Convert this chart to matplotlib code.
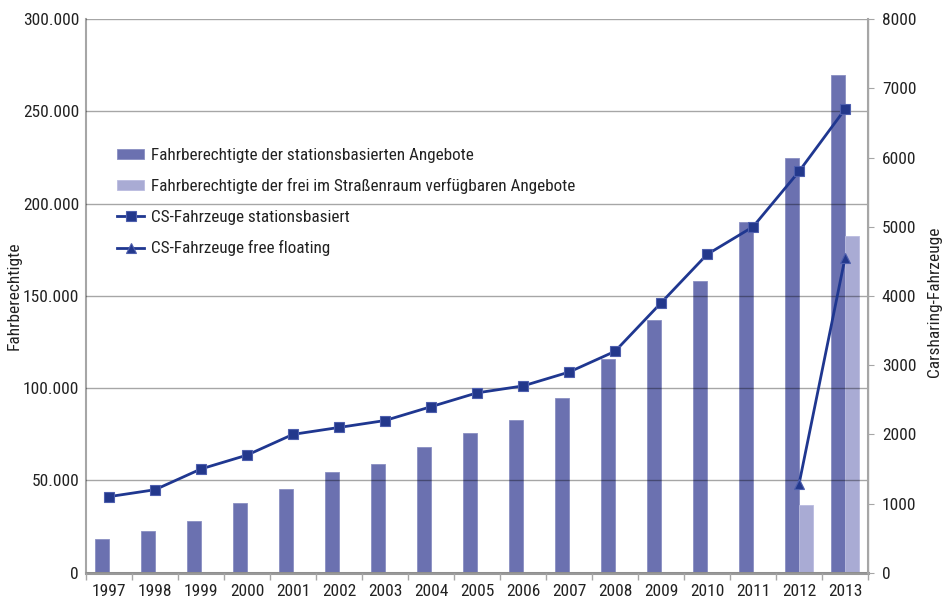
import matplotlib
matplotlib.use("Agg")
import matplotlib.pyplot as plt
from matplotlib.ticker import FuncFormatter, MultipleLocator, FixedLocator
import numpy as np

plt.rcParams['font.family'] = ['Roboto Condensed', 'Liberation Sans Narrow', 'DejaVu Sans']
plt.rcParams['font.stretch'] = 'condensed'

years = ["1997", "1998", "1999", "2000", "2001", "2002", "2003", "2004", "2005",
         "2006", "2007", "2008", "2009", "2010", "2011", "2012", "2013"]
fahrber_station = [18500, 22400, 28200, 37600, 45600, 54400, 59000, 68000, 75700,
                   82900, 94900, 115800, 136800, 158000, 190000, 225000, 270000]
fahrber_free = [None] * 15 + [36700, 182700]
fz_station = [1100, 1200, 1500, 1700, 2000, 2100, 2200, 2400, 2600,
              2700, 2900, 3200, 3900, 4600, 5000, 5800, 6700]
fz_free = [None] * 15 + [1280, 4550]

lbl_bar1 = "Fahrberechtigte der stationsbasierten Angebote"
lbl_bar2 = "Fahrberechtigte der frei im Straßenraum verfügbaren Angebote"
lbl_ln1 = "CS-Fahrzeuge stationsbasiert"
lbl_ln2 = "CS-Fahrzeuge free floating"

c_bar1 = "#6b71b0"
c_bar2 = "#a9abd4"
c_line = "#1f3790"
grey = "#a6a6a6"
txt = "#222222"

fig = plt.figure(figsize=(9.5, 6.01), dpi=100)
ax = fig.add_axes([0.0905, 0.047, 0.8232, 0.921])
ax2 = ax.twinx()

x = np.arange(len(years))
w = 0.30
ax.bar(x - w / 2, fahrber_station, width=w, color=c_bar1, edgecolor="#8a8fc2",
       linewidth=0.6, label=lbl_bar1, zorder=2)
fx = [i for i, v in enumerate(fahrber_free) if v is not None]
fv = [v for v in fahrber_free if v is not None]
ax.bar(np.array(fx) + w / 2, fv, width=w, color=c_bar2, edgecolor="#babce0",
       linewidth=0.6, label=lbl_bar2, zorder=2)

ax.set_ylim(0, 300000)
ax.set_xlim(-0.5, len(years) - 0.5)
ax.yaxis.set_major_locator(MultipleLocator(50000))
ax.yaxis.set_major_formatter(FuncFormatter(lambda v, p: "0" if v == 0 else f"{int(v):,}".replace(",", ".")))
ax.grid(axis="y", color="black", alpha=0.35, linewidth=1.0, zorder=3)
ax.set_axisbelow(False)
ax.set_xticks(x)
ax.set_xticklabels(years)
ax.xaxis.set_minor_locator(FixedLocator(np.arange(-0.5, len(years), 1.0)))
ax.tick_params(axis="x", which="major", length=0, pad=8, labelsize=12.5, labelcolor=txt)
ax.tick_params(axis="x", which="minor", length=5, color=grey, width=1)
ax.tick_params(axis="y", length=0, pad=5, labelsize=12.5, labelcolor=txt)
ax.set_ylabel("Fahrberechtigte", fontsize=12.5, color=txt)
ax.yaxis.set_label_coords(-0.082, 0.5)

for s in ["top"]:
    ax.spines[s].set_visible(False)
    ax2.spines[s].set_visible(False)
ax.spines["left"].set_color(grey)
ax.spines["left"].set_linewidth(1.5)
ax.spines["bottom"].set_color("#999999")
ax.spines["bottom"].set_linewidth(2.2)
ax2.spines["right"].set_color(grey)
ax2.spines["right"].set_linewidth(1.5)
ax2.spines["left"].set_visible(False)
ax2.spines["bottom"].set_visible(False)

ax2.plot(x, fz_station, color=c_line, linewidth=2.0, marker="s", markersize=6.5,
         markerfacecolor="#23388c", markeredgecolor="#4e5fae", markeredgewidth=0.8,
         label=lbl_ln1, zorder=5)
lx = [i for i, v in enumerate(fz_free) if v is not None]
lv = [v for v in fz_free if v is not None]
ax2.plot(lx, lv, color=c_line, linewidth=2.0, marker="^", markersize=6.5,
         markerfacecolor="#23388c", markeredgecolor="#4e5fae", markeredgewidth=0.8,
         label=lbl_ln2, zorder=5)
ax2.set_ylim(0, 8000)
ax2.yaxis.set_major_locator(MultipleLocator(1000))
ax2.tick_params(axis="y", length=4, color=grey, pad=6, labelsize=12.5, labelcolor=txt)
ax2.set_ylabel("Carsharing-Fahrzeuge", fontsize=12.5, color=txt)
ax2.yaxis.set_label_coords(1.075, 0.49)

h1, l1 = ax.get_legend_handles_labels()
h2, l2 = ax2.get_legend_handles_labels()
leg = ax2.legend(h1 + h2, l1 + l2, loc="upper left", bbox_to_anchor=(0.031, 0.78),
                 frameon=False, fontsize=12.3, handlelength=1.6, handleheight=0.5,
                 handletextpad=0.4, labelspacing=0.9, borderaxespad=0)
for t in leg.get_texts():
    t.set_color(txt)

fig.savefig("out.png", dpi=100)
